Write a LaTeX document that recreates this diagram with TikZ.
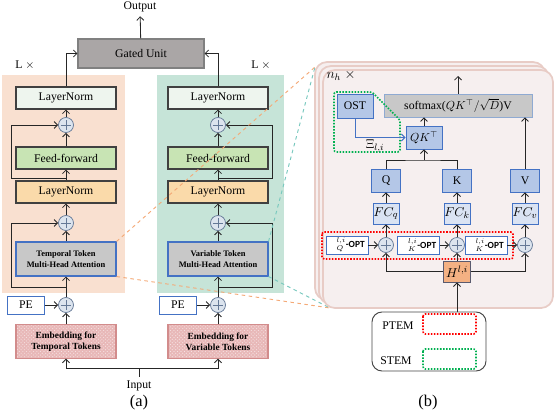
\documentclass[tikz,border=0pt]{standalone}
\usepackage{fontspec}
\setmainfont{Liberation Serif}
\setsansfont{Carlito}
\usetikzlibrary{arrows.meta, patterns, positioning}

\definecolor{lpanel}{RGB}{249,224,208}
\definecolor{rpanel}{RGB}{198,228,216}
\definecolor{lnafill}{RGB}{238,245,238}
\definecolor{fffill}{RGB}{200,228,180}
\definecolor{lnbfill}{RGB}{250,218,170}
\definecolor{attfill}{RGB}{200,200,200}
\definecolor{attline}{RGB}{68,114,196}
\definecolor{gatefill}{RGB}{170,166,166}
\definecolor{gateline}{RGB}{128,128,128}
\definecolor{addfill}{RGB}{220,228,238}
\definecolor{addline}{RGB}{100,120,150}
\definecolor{embfill}{RGB}{232,184,184}
\definecolor{embline}{RGB}{210,140,140}
\definecolor{cardfill}{RGB}{246,239,239}
\definecolor{cardline}{RGB}{232,204,198}
\definecolor{qfill}{RGB}{180,199,231}
\definecolor{fcfill}{RGB}{218,227,243}
\definecolor{softline}{RGB}{143,170,210}
\definecolor{hfill}{RGB}{244,177,131}
\definecolor{hline}{RGB}{90,90,110}
\definecolor{ptem}{RGB}{255,0,0}
\definecolor{stem}{RGB}{0,176,80}
\definecolor{zoomo}{RGB}{244,170,120}
\definecolor{zoomt}{RGB}{120,200,190}
\definecolor{legline}{RGB}{70,70,70}

\tikzset{
    blk/.style={draw=black!75, line width=0.9pt, minimum width=3cm, minimum height=0.66cm, inner sep=0pt, font=\fontsize{10}{12}\selectfont},
    addop/.style={circle, draw=addline, fill=addfill, line width=0.6pt, minimum size=0.45cm, inner sep=0pt,
        path picture={\draw[addline, line width=0.5pt]
            ([xshift=-0.16cm]path picture bounding box.center) -- ([xshift=0.16cm]path picture bounding box.center)
            ([yshift=-0.16cm]path picture bounding box.center) -- ([yshift=0.16cm]path picture bounding box.center);}},
    emb/.style={draw=embline, preaction={fill=embfill}, pattern=crosshatch dots, pattern color=white!60!embfill, align=center, minimum height=1cm, font=\bfseries\fontsize{8}{9.5}\selectfont},
    qbox/.style={draw=attline, fill=qfill, line width=0.8pt, inner sep=0pt, minimum width=0.87cm, minimum height=0.69cm, font=\fontsize{10}{12}\selectfont},
    optbox/.style={draw=attline, fill=white, line width=0.6pt, inner sep=0pt, minimum width=1.26cm, minimum height=0.54cm, font=\footnotesize},
    wire/.style={line width=0.7pt, black!85},
    dotbox/.style={line width=1.4pt, dash pattern=on 1.3pt off 1.3pt, rounded corners=2pt}
}

\begin{document}
\begin{tikzpicture}[x=0.03cm, y=-0.03cm, >={Straight Barb[length=3pt,width=6pt]}]
    \useasboundingbox (0,0) rectangle (556,413);

    % the panels
    \fill[lpanel] (2,75) rectangle (125,293);
    \fill[rpanel] (157,75) rectangle (284,293);
    \node[font=\fontsize{10}{12}\selectfont] (lt) at (25,65) {L $\times$};
    \node[font=\fontsize{10}{12}\selectfont] (lv) at (261,65) {L $\times$};

    % the gate
    \node[blk, draw=gateline, fill=gatefill, minimum width=3.78cm, minimum height=0.87cm] (gate) at (141,53.5) {Gated Unit};
    \node[font=\fontsize{10}{12}\selectfont] (out) at (140,7) {Output};
    \draw[wire, ->] (gate) -- (out);

    % the input
    \node[font=\fontsize{10}{12}\selectfont] (inp) at (139,386) {Input};
    \coordinate (split) at (139,368);
    \draw[wire] (inp) -- (split);
    \node[font=\fontsize{14}{16}\selectfont] (capa) at (139,403) {(a)};

    % the two encoders
    \foreach \x/\s/\w/\n in {66/-1/Temporal/t, 218/1/Variable/v} {
        \node[blk, fill=lnafill] (lna\n) at (\x, 98) {LayerNorm};
        \node[addop] (adda\n) at (\x, 125) {};
        \node[blk, fill=fffill] (ff\n) at (\x, 158) {Feed-forward};
        \node[blk, fill=lnbfill] (lnb\n) at (\x, 192) {LayerNorm};
        \node[addop] (addb\n) at (\x, 223) {};
        \node[blk, draw=attline, fill=attfill, minimum height=1.02cm, align=center, font=\bfseries\fontsize{7.2}{9.5}\selectfont] (att\n) at (\x, 259) {\w{} Token\\Multi-Head Attention};
        \node[addop] (addp\n) at (\x, 305) {};
        \node[blk, draw=attline, line width=0.6pt, fill=white, minimum width=1.11cm, minimum height=0.54cm] (pe\n) at (\x-40, 305) {PE};
        \node[blk, emb, minimum width=3cm] (emb\n) at (\x, 341.5) {Embedding for\\\w{} Tokens};

        \coordinate (ra\n) at (\x, 178);
        \coordinate (rb\n) at (\x, 287);
        \draw[wire, ->] (split) -| (emb\n);
        \draw[wire, ->] (emb\n) -- (addp\n);
        \draw[wire, ->] (pe\n) -- (addp\n);
        \draw[wire, ->] (addp\n) -- (att\n);
        \draw[wire, ->] (rb\n) -- ++(\s*54.5, 0) |- (addb\n);
        \draw[wire, ->] (att\n) -- (addb\n);
        \draw[wire, ->] (addb\n) -- (lnb\n);
        \draw[wire, ->] (lnb\n) -- (ff\n);
        \draw[wire, ->] (ra\n) -- ++(\s*54.5, 0) |- (adda\n);
        \draw[wire, ->] (ff\n) -- (adda\n);
        \draw[wire, ->] (adda\n) -- (lna\n);
        \draw[wire, ->] (lna\n) |- (gate);
    };

    % zoom lines
    \coordinate (ctl) at (315,67);
    \coordinate (cbl) at (330,308);
    \draw[zoomo, line width=0.8pt, dashed] (attt.north east) -- (ctl) (attt.south east) -- (cbl);
    \draw[zoomt, line width=0.8pt, dashed] (attv.north east) -- (ctl) (attv.south east) -- (cbl);

    % the heads
    \foreach \d in {8,4,0} {
        \draw[cardline, fill=cardfill, line width=1.5pt, rounded corners=0.36cm] (323-\d,70-\d) rectangle (553-\d,308-\d);
    };
    \node[font=\fontsize{12}{14}\selectfont] (nh) at (341,75) {$n_h\ \times$};

    \node[draw=softline, fill=attfill, line width=0.6pt, minimum width=4.44cm, minimum height=0.69cm, inner sep=0pt, font=\fontsize{10}{12}\selectfont] (soft) at (458,105.5) {softmax($QK^{\top}/\sqrt{D}$)V};
    \node[qbox, minimum width=1.08cm, minimum height=0.72cm] (ost) at (355,106) {OST};
    \node[qbox, minimum width=1.08cm] (qk) at (424,137.5) {$QK^{\top}$};
    \node[qbox] (q) at (386,180.5) {Q};
    \node[qbox] (k) at (457,180.5) {K};
    \node[qbox] (v) at (525,180.5) {V};
    \node[qbox, fill=fcfill, minimum width=0.78cm, minimum height=0.63cm, font=\fontsize{11}{13}\selectfont] (fcq) at (386,213.5) {$FC_q$};
    \node[qbox, fill=fcfill, minimum width=0.78cm, minimum height=0.63cm, font=\fontsize{11}{13}\selectfont] (fck) at (457,213.5) {$FC_k$};
    \node[qbox, fill=fcfill, minimum width=0.78cm, minimum height=0.63cm, font=\fontsize{11}{13}\selectfont] (fcv) at (525,213.5) {$FC_v$};
    \node[addop] (addq) at (386,245) {};
    \node[addop] (addk) at (457,245) {};
    \node[addop] (addv) at (525,245) {};
    \node[optbox] (optq) at (347,245) {$\mathit{\Gamma}^{l,i}_{Q}$\textsf{\textbf{-OPT}}};
    \node[optbox] (optk) at (418.5,245) {$\mathit{\Gamma}^{l,i}_{K}$\textsf{\textbf{-OPT}}};
    \node[optbox] (optv) at (486,245) {$\mathit{\Gamma}^{l,i}_{K}$\textsf{\textbf{-OPT}}};
    \node[draw=hline, fill=hfill, line width=0.8pt, inner sep=0pt, minimum width=0.81cm, minimum height=0.63cm, font=\fontsize{11}{13}\selectfont] (h) at (457,271.5) {$H^{l,i}$};

    % the modules
    \draw[ptem, dotbox] (322,232) rectangle (513,259);
    \draw[stem, dotbox] (334,92) -- (372,92) -- (400,120) -- (400,152) -- (334,152) -- cycle;

    % wires of the head
    \coordinate (qkj) at (424,160);
    \coordinate (hin) at (457,312);
    \coordinate (sout) at (458,76);
    \draw[wire, ->] (soft) -- (sout);
    \draw[wire, ->] (qk.north) -- (qk.north |- soft.south);
    \draw[wire, ->] (v.north) -- (v.north |- soft.south);
    \draw[wire] (q.north) |- (qkj) -| (k.north);
    \draw[wire, ->] (qkj) -- (qk);
    \draw[attline, line width=0.8pt, ->] (ost) |- (qk);
    \node[font=\fontsize{11}{13}\selectfont] (xi) at (375,146) {$\Xi_{l,i}$};
    \foreach \n in {q,k,v} {
        \draw[wire, ->] (fc\n) -- (\n);
        \draw[wire, ->] (add\n) -- (fc\n);
        \draw[wire, ->] (opt\n) -- (add\n);
    };
    \draw[wire, ->] (h) -| (addq);
    \draw[wire, ->] (h) -- (addk);
    \draw[wire, ->] (h) -| (addv);
    \draw[wire, ->] (hin) -- (h);

    % the legend
    \node[draw=legline, fill=white, line width=0.8pt, rounded corners=0.3cm, minimum width=3.42cm, minimum height=1.77cm] (leg) at (429,341.5) {};
    \node[font=\fontsize{10}{12}\selectfont] (lp) at (398,326) {PTEM};
    \node[font=\fontsize{10}{12}\selectfont] (ls) at (396,361) {STEM};
    \draw[ptem, dotbox] (423,314) rectangle (476,334);
    \draw[stem, dotbox] (423,349) rectangle (476,369);
    \node[font=\fontsize{14}{16}\selectfont] (capb) at (428,403) {(b)};
\end{tikzpicture}
\end{document}
